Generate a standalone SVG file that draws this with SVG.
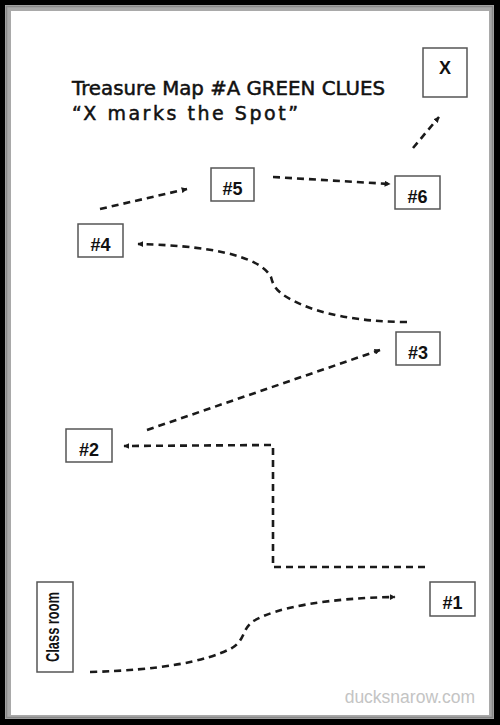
<svg xmlns="http://www.w3.org/2000/svg" width="500" height="725" viewBox="0 0 500 725">
<defs>
<style>
.box{fill:#fff;stroke:#555;stroke-width:1.5}
.lbl{font-family:"Liberation Sans",Arial,sans-serif;font-weight:bold;font-size:18px;fill:#111;text-anchor:middle}
.title{font-family:"DejaVu Sans","Liberation Sans",sans-serif;font-size:19px;fill:#111;stroke:#111;stroke-width:0.5}
.con{fill:none;stroke:#1a1a1a;stroke-width:2.6;stroke-dasharray:7 5}
</style>
<marker id="ah" viewBox="0 0 10 10" refX="9" refY="5" markerWidth="6" markerHeight="6" markerUnits="userSpaceOnUse" orient="auto">
<path d="M0,0 L10,5 L0,10 z" fill="#1a1a1a"/>
</marker>
</defs>
<rect x="0" y="0" width="500" height="725" fill="#000"/>
<rect x="5" y="5" width="489" height="714" fill="#a9a9a9"/>
<rect x="6.5" y="6.5" width="486" height="711" fill="none" stroke="#888" stroke-width="1.5"/>
<rect x="11" y="11" width="478" height="704" fill="#fff"/>

<text class="title" x="72" y="95" textLength="313" lengthAdjust="spacingAndGlyphs">Treasure Map #A GREEN CLUES</text>
<text class="title" x="72" y="120" textLength="226" lengthAdjust="spacing">“X marks the Spot”</text>

<g id="connectors">
<path class="con" d="M90,672 C160,670 205,662 232,648 C245,640 242,630 252,622 C275,607 330,598 395,597" marker-end="url(#ah)"/>
<path class="con" d="M425,567 L273,567 L273,445 L124,446" stroke-dasharray="6 4" marker-end="url(#ah)"/>
<path class="con" d="M147,430 L380,350" marker-end="url(#ah)"/>
<path class="con" d="M407,322 C360,322 318,314 292,300 C276,292 273,285 271,277 C262,260 225,246 138,244" marker-end="url(#ah)"/>
<path class="con" d="M100,209 L187,189" marker-end="url(#ah)"/>
<path class="con" d="M273,177 L390,184" marker-end="url(#ah)"/>
<path class="con" d="M413,148 L439,117" marker-end="url(#ah)"/>
</g>

<g id="nodeX"><rect class="box" x="423" y="48" width="44" height="49"/><text class="lbl" x="445" y="74" font-size="19">X</text></g>
<g id="node5"><rect class="box" x="211" y="168" width="43" height="33"/><text class="lbl" x="232.5" y="195">#5</text></g>
<g id="node6"><rect class="box" x="395" y="176" width="45" height="33"/><text class="lbl" x="417.5" y="203">#6</text></g>
<g id="node4"><rect class="box" x="78" y="224" width="45" height="33"/><text class="lbl" x="100.5" y="251">#4</text></g>
<g id="node3"><rect class="box" x="396" y="332" width="44" height="33"/><text class="lbl" x="418" y="359">#3</text></g>
<g id="node2"><rect class="box" x="66" y="429" width="46" height="33"/><text class="lbl" x="89" y="456">#2</text></g>
<g id="node1"><rect class="box" x="430" y="582" width="45" height="34"/><text class="lbl" x="452.5" y="609">#1</text></g>
<g id="classroom"><rect class="box" x="37" y="582" width="36" height="90"/><text class="lbl" transform="translate(59,627) rotate(-90)" x="0" y="0" font-size="12.5" textLength="70" lengthAdjust="spacingAndGlyphs">Class room</text></g>

<text x="475" y="703" font-family="'Liberation Sans',Arial,sans-serif" font-size="17.5" fill="#c4c4c4" text-anchor="end">ducksnarow.com</text>
</svg>
